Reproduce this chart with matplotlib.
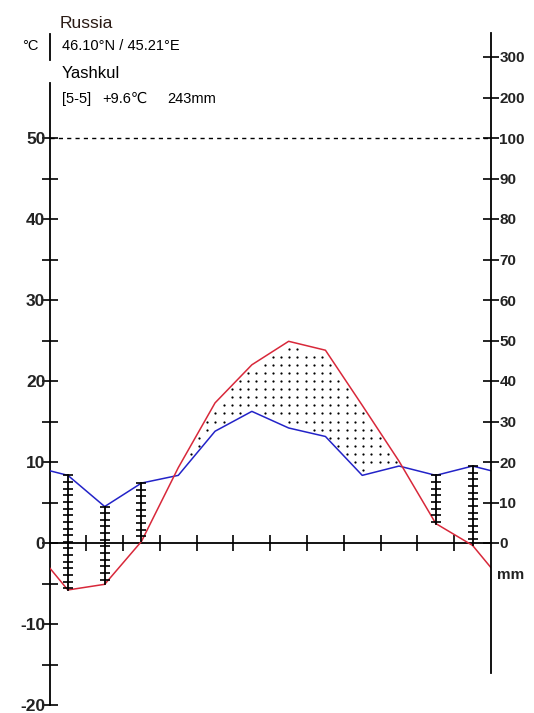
import numpy as np
import matplotlib.pyplot as plt

plt.rcParams['font.family'] = ['Liberation Sans', 'DejaVu Sans']

# monthly means, Jan..Dec
temp = [-5.8, -5.1, 0.2, 9.3, 17.3, 22.0, 24.9, 23.8, 17.0, 10.1, 2.4, -0.3]
prec = [16.7, 9.0, 14.8, 16.7, 27.6, 32.5, 28.4, 26.3, 16.7, 19.0, 16.7, 19.0]
frost_months = [1, 2, 3, 11, 12]

country = "Russia"
coords = "46.10°N / 45.21°E"
station = "Yashkul"
info = ["[5-5]", "+9.6℃", "243mm"]

left_ticks = list(range(-20, 55, 5))
mm_ticks = [0, 10, 20, 30, 40, 50, 60, 70, 80, 90, 100, 200, 300]


def mm_to_c(p):
    # 10 mm = 5 degC up to 100 mm, then compressed
    p = np.asarray(p, dtype=float)
    return np.where(p <= 100, p / 2.0, 50 + (p - 100) / 20.0)


W, H = 534, 713
fig = plt.figure(figsize=(W / 100, H / 100), dpi=100)
ax = fig.add_axes([49.5 / W, 8 / H, 441.5 / W, 680.4 / H])
ax.set_xlim(0, 12)
ax.set_ylim(-20, 64)

# periodic closing at the axes edges
t = np.array(temp)
p = mm_to_c(prec)
xm = np.arange(12) + 0.5
xx = np.concatenate([[0], xm, [12]])
tt = np.concatenate([[(t[0] + t[-1]) / 2], t, [(t[0] + t[-1]) / 2]])
pp = np.concatenate([[(p[0] + p[-1]) / 2], p, [(p[0] + p[-1]) / 2]])

# dotted arid area
gx, gy = np.meshgrid(np.arange(0.05, 12, 0.223), np.arange(-20, 60, 1.0))
gx, gy = gx.ravel(), gy.ravel()
inside = (gy > np.interp(gx, xx, pp) + 0.4) & (gy < np.interp(gx, xx, tt) - 0.4)
ax.scatter(gx[inside], gy[inside], s=2.6, color='black', lw=0, zorder=2)

ax.plot(xx, pp, color='#2323c8', lw=1.1, zorder=3)
ax.plot(xx, tt, color='#d8283a', lw=1.1, zorder=3)

# frost ladders
for m in frost_months:
    x = m - 0.5
    top, bot = p[m - 1], t[m - 1]
    ax.plot([x, x], [top, bot], color='black', lw=1.3, zorder=4)
    ys = np.arange(top, bot, -0.82)
    ax.plot(np.full(len(ys), x), ys, ls='none', marker='_', ms=6.5,
            mew=1.2, color='black', zorder=4)

# 100 mm line
ax.plot([0, 12], [50, 50], color='black', lw=1, ls=(0, (3, 3)), zorder=1)

# axes lines
for s in ['top', 'right']:
    ax.spines[s].set_visible(False)
ax.spines['left'].set_bounds(-20, 56.8)
ax.spines['bottom'].set_position(('data', 0))
for s in ['left', 'bottom']:
    ax.spines[s].set_linewidth(1.3)
ax.plot([0, 0], [59.6, 62.8], color='black', lw=1.3, clip_on=False)

ax.set_yticks(left_ticks)
ax.set_yticklabels([str(v) if v % 10 == 0 else '' for v in left_ticks],
                   fontsize=12.5, fontweight='bold', color='#222222')
ax.set_xticks(range(1, 12))
ax.set_xticklabels([])
ax.tick_params(direction='inout', length=12, width=1.2, pad=1)
ax.tick_params(axis='y', pad=-3)

ax2 = ax.twinx()
ax2.set_ylim(ax.get_ylim())
for s in ['top', 'left', 'bottom']:
    ax2.spines[s].set_visible(False)
ax2.spines['right'].set_bounds(-16, 63)
ax2.spines['right'].set_linewidth(1.3)
ax2.set_yticks(mm_to_c(mm_ticks))
ax2.set_yticklabels([str(v) for v in mm_ticks], fontsize=11,
                    fontweight='bold', color='#222222')
ax2.tick_params(direction='inout', length=12, width=1.2, pad=0)
ax2.text(12.15, -4, "mm", fontsize=11, fontweight='bold', color='#222222',
         va='center', ha='left')

# header
def px(x, y):
    return x / W, 1 - y / H

fig.text(*px(60, 28), country, fontsize=12.5, color='#2a1a14')
fig.text(*px(22, 50), "°C", fontsize=10.5)
fig.text(*px(62, 50), coords, fontsize=10.5)
fig.text(*px(62, 78), station, fontsize=12)
fig.text(*px(62, 103), info[0], fontsize=10.5)
fig.text(*px(102, 103), info[1], fontsize=10.5)
fig.text(*px(167, 103), info[2], fontsize=10.5)

fig.savefig('out.png', dpi=100)
